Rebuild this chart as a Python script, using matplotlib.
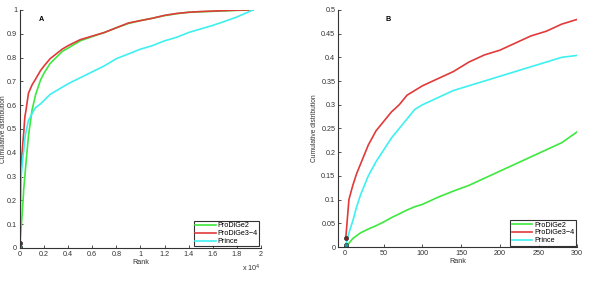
import matplotlib
matplotlib.use("Agg")
import matplotlib.pyplot as plt

# rank positions and cumulative distribution values
rank = [1, 5, 10, 15, 20, 30, 40, 50, 60, 70, 80, 90, 100, 120, 140, 160, 180,
        200, 220, 240, 260, 280, 300, 400, 500, 700, 1000, 1300, 1700, 2000,
        2500, 3000, 3500, 4000, 5000, 6000, 7000, 8000, 9000, 10000, 11000,
        12000, 13000, 14000, 15000, 16000, 17000, 18000, 19350]

prodige2 = [0.001, 0.008, 0.018, 0.024, 0.03, 0.038, 0.045, 0.053, 0.062, 0.07,
            0.078, 0.085, 0.09, 0.105, 0.118, 0.13, 0.145, 0.16, 0.175, 0.19,
            0.205, 0.22, 0.243, 0.30, 0.36, 0.47, 0.58, 0.645, 0.705, 0.735,
            0.775, 0.80, 0.825, 0.84, 0.87, 0.888, 0.905, 0.925, 0.943, 0.955,
            0.965, 0.976, 0.984, 0.99, 0.992, 0.994, 0.996, 0.998, 1.0]

prodige34 = [0.02, 0.10, 0.13, 0.155, 0.175, 0.215, 0.245, 0.265, 0.285, 0.30,
             0.32, 0.33, 0.34, 0.355, 0.37, 0.39, 0.405, 0.415, 0.43, 0.445,
             0.455, 0.47, 0.48, 0.55, 0.58, 0.65, 0.685, 0.71, 0.745, 0.765,
             0.795, 0.815, 0.835, 0.85, 0.875, 0.89, 0.905, 0.925, 0.945, 0.955,
             0.965, 0.977, 0.985, 0.99, 0.993, 0.995, 0.997, 0.999, 1.0]

prince = [0.005, 0.03, 0.055, 0.085, 0.11, 0.15, 0.18, 0.205, 0.23, 0.25, 0.27,
          0.29, 0.30, 0.315, 0.33, 0.34, 0.35, 0.36, 0.37, 0.38, 0.39, 0.40,
          0.404, 0.46, 0.49, 0.535, 0.565, 0.59, 0.605, 0.62, 0.645, 0.66,
          0.675, 0.69, 0.715, 0.74, 0.765, 0.795, 0.815, 0.835, 0.85, 0.87,
          0.885, 0.905, 0.92, 0.935, 0.952, 0.97, 1.0]

labels = ["ProDiGe2", "ProDiGe3\u22124", "Prince"]
colors = ["#3ee83e", "#e03a3a", "#3ef0f0"]
marker_colors = ["#1f8f3a", "#8b1a1a", "#1f9f9f"]

left_xticks = [0, 2000, 4000, 6000, 8000, 10000, 12000, 14000, 16000, 18000, 20000]
left_xticklabels = ["0", "0.2", "0.4", "0.6", "0.8", "1", "1.2", "1.4", "1.6", "1.8", "2"]
left_yticks = [0, 0.1, 0.2, 0.3, 0.4, 0.5, 0.6, 0.7, 0.8, 0.9, 1]
left_yticklabels = ["0", "0.1", "0.2", "0.3", "0.4", "0.5", "0.6", "0.7", "0.8", "0.9", "1"]
right_xticks = [0, 50, 100, 150, 200, 250, 300]
right_yticks = [0, 0.05, 0.1, 0.15, 0.2, 0.25, 0.3, 0.35, 0.4, 0.45, 0.5]
right_yticklabels = ["0", "0.05", "0.1", "0.15", "0.2", "0.25", "0.3", "0.35", "0.4", "0.45", "0.5"]

plt.rcParams["font.family"] = ["Liberation Sans", "DejaVu Sans"]
fs = 5.2

fig = plt.figure(figsize=(5.89, 2.91), dpi=100)
ax_a = fig.add_axes([0.034, 0.148, 0.409, 0.818])
ax_b = fig.add_axes([0.574, 0.151, 0.406, 0.815])

series = [prodige2, prodige34, prince]

for ax, xmax in [(ax_a, 20000), (ax_b, 300)]:
    for vals, lab, col in zip(series, labels, colors):
        xs = [r for r in rank if r <= xmax]
        ys = vals[:len(xs)]
        ax.plot(xs, ys, color=col, lw=1.2, label=lab)
    for vals, mcol in zip(series, marker_colors):
        ax.plot(rank[0], vals[0], "o", ms=3, color=mcol, mec="#333333", mew=0.5)
    for s in ["top", "right"]:
        ax.spines[s].set_visible(False)
    for s in ["left", "bottom"]:
        ax.spines[s].set_color("#333333")
        ax.spines[s].set_linewidth(0.8)
    ax.tick_params(direction="in", length=2.5, width=0.6, labelsize=fs,
                   colors="#333333", pad=2)
    ax.set_xlabel("Rank", fontsize=fs, labelpad=1, color="#333333")
    ax.set_ylabel("Cumulative distribution", fontsize=4.8, color="#333333")
    leg = ax.legend(loc="lower right", fontsize=fs, frameon=True, fancybox=False,
                    handlelength=2.8, borderpad=0.2, labelspacing=0.1,
                    handletextpad=0.3, borderaxespad=0.2)
    leg.get_frame().set_edgecolor("black")
    leg.get_frame().set_linewidth(0.8)

ax_a.yaxis.set_label_coords(-0.056, 0.5)
ax_b.yaxis.set_label_coords(-0.085, 0.5)

ax_a.set_xlim(0, 20000)
ax_a.set_ylim(0, 1)
ax_a.set_xticks(left_xticks)
ax_a.set_xticklabels(left_xticklabels)
ax_a.set_yticks(left_yticks)
ax_a.set_yticklabels(left_yticklabels)
ax_a.text(1.0, -0.06, "x 10$^4$", transform=ax_a.transAxes, ha="right", va="top",
          fontsize=fs, color="#333333")
ax_a.text(0.08, 0.96, "A", transform=ax_a.transAxes, fontsize=fs, fontweight="bold",
          va="center")

ax_b.set_xlim(-9, 300)
ax_b.set_ylim(0, 0.5)
ax_b.set_xticks(right_xticks)
ax_b.set_yticks(right_yticks)
ax_b.set_yticklabels(right_yticklabels)
ax_b.text(0.2, 0.96, "B", transform=ax_b.transAxes, fontsize=fs, fontweight="bold",
          va="center")

fig.savefig("out.png", dpi=100)
